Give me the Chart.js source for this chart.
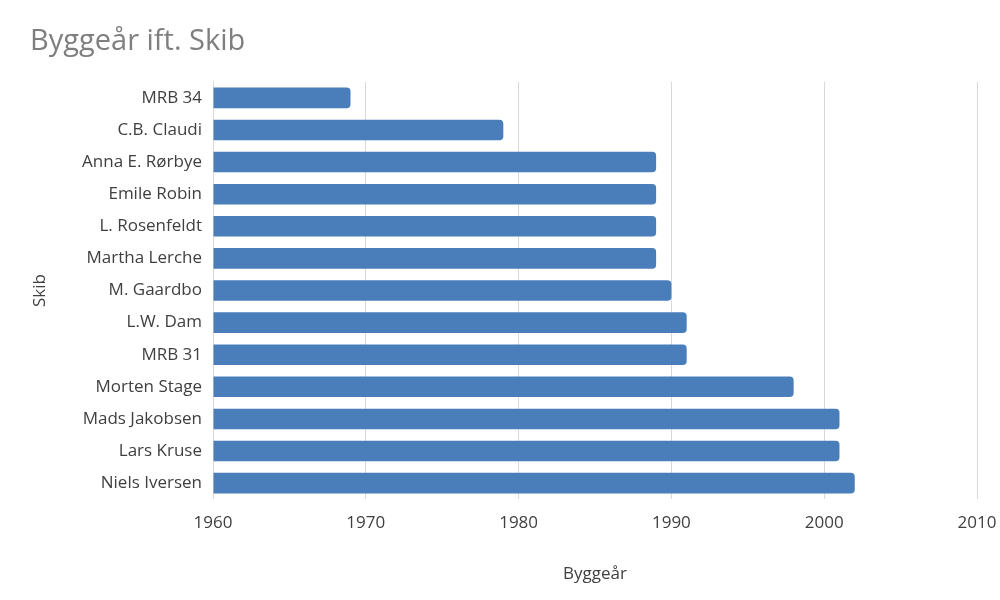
<!DOCTYPE html>
<html>
<head>
<meta charset="utf-8">
<script src="https://cdn.jsdelivr.net/npm/chart.js@4"></script>
<style>
  html, body { margin: 0; padding: 0; background: #fff; }
  #wrap { width: 1000px; height: 600px; }
</style>
</head>
<body>
<div id="wrap"><canvas id="shipChart" width="1000" height="600"></canvas></div>
<script>
// Skibe og byggeår
const ships = ['MRB 34', 'C.B. Claudi', 'Anna E. Rørbye', 'Emile Robin', 'L. Rosenfeldt', 'Martha Lerche',
  'M. Gaardbo', 'L.W. Dam', 'MRB 31', 'Morten Stage', 'Mads Jakobsen', 'Lars Kruse', 'Niels Iversen'];
const buildYears = [1969, 1979, 1989, 1989, 1989, 1989, 1990, 1991, 1991, 1998, 2001, 2001, 2002];
const xTicks = [1960, 1970, 1980, 1990, 2000, 2010];

const FONT = '"Open Sans", "Noto Sans", sans-serif';

const ctx = document.getElementById('shipChart').getContext('2d');
new Chart(ctx, {
  type: 'bar',
  data: {
    labels: ships,
    datasets: [{
      label: 'Byggeår',
      data: buildYears,
      base: xTicks[0],
      backgroundColor: '#4a7ebb',
      borderRadius: { topRight: 4, bottomRight: 4 },
      borderSkipped: 'start',
      barPercentage: 0.64,
      categoryPercentage: 1.0
    }]
  },
  options: {
    indexAxis: 'y',
    responsive: false,
    animation: false,
    layout: { padding: { left: 30, right: 0, top: 0, bottom: 12 } },
    plugins: {
      legend: { display: false },
      tooltip: { enabled: false },
      title: {
        display: true,
        text: 'Byggeår ift. Skib',
        align: 'start',
        color: '#7f7f7f',
        font: { family: FONT, size: 29, weight: 'normal' },
        padding: { top: 24, bottom: 23 }
      }
    },
    scales: {
      x: {
        min: xTicks[0],
        max: xTicks[xTicks.length - 1],
        afterBuildTicks: function (scale) {
          scale.ticks = xTicks.map(v => ({ value: v }));
        },
        afterFit: function (scale) {
          // lad "2010" hænge ud over kanten som i originalen
          scale.paddingRight = 23;
        },
        grid: { color: '#d9d9d9', lineWidth: 1, drawTicks: false },
        border: { display: false },
        ticks: {
          color: '#404040',
          font: { family: FONT, size: 17 },
          padding: 14,
          maxRotation: 0,
          callback: function (value) { return String(value); }
        },
        title: {
          display: true,
          text: 'Byggeår',
          color: '#404040',
          font: { family: FONT, size: 17 },
          padding: { top: 16, bottom: 4 }
        }
      },
      y: {
        afterFit: function (scale) { scale.width = 183; },
        grid: { display: false },
        border: { display: false },
        ticks: {
          color: '#404040',
          font: { family: FONT, size: 17 },
          padding: 3
        },
        title: {
          display: true,
          text: 'Skib',
          color: '#404040',
          font: { family: FONT, size: 17 },
          padding: { top: 0, bottom: 0 }
        }
      }
    }
  }
});
</script>
</body>
</html>
